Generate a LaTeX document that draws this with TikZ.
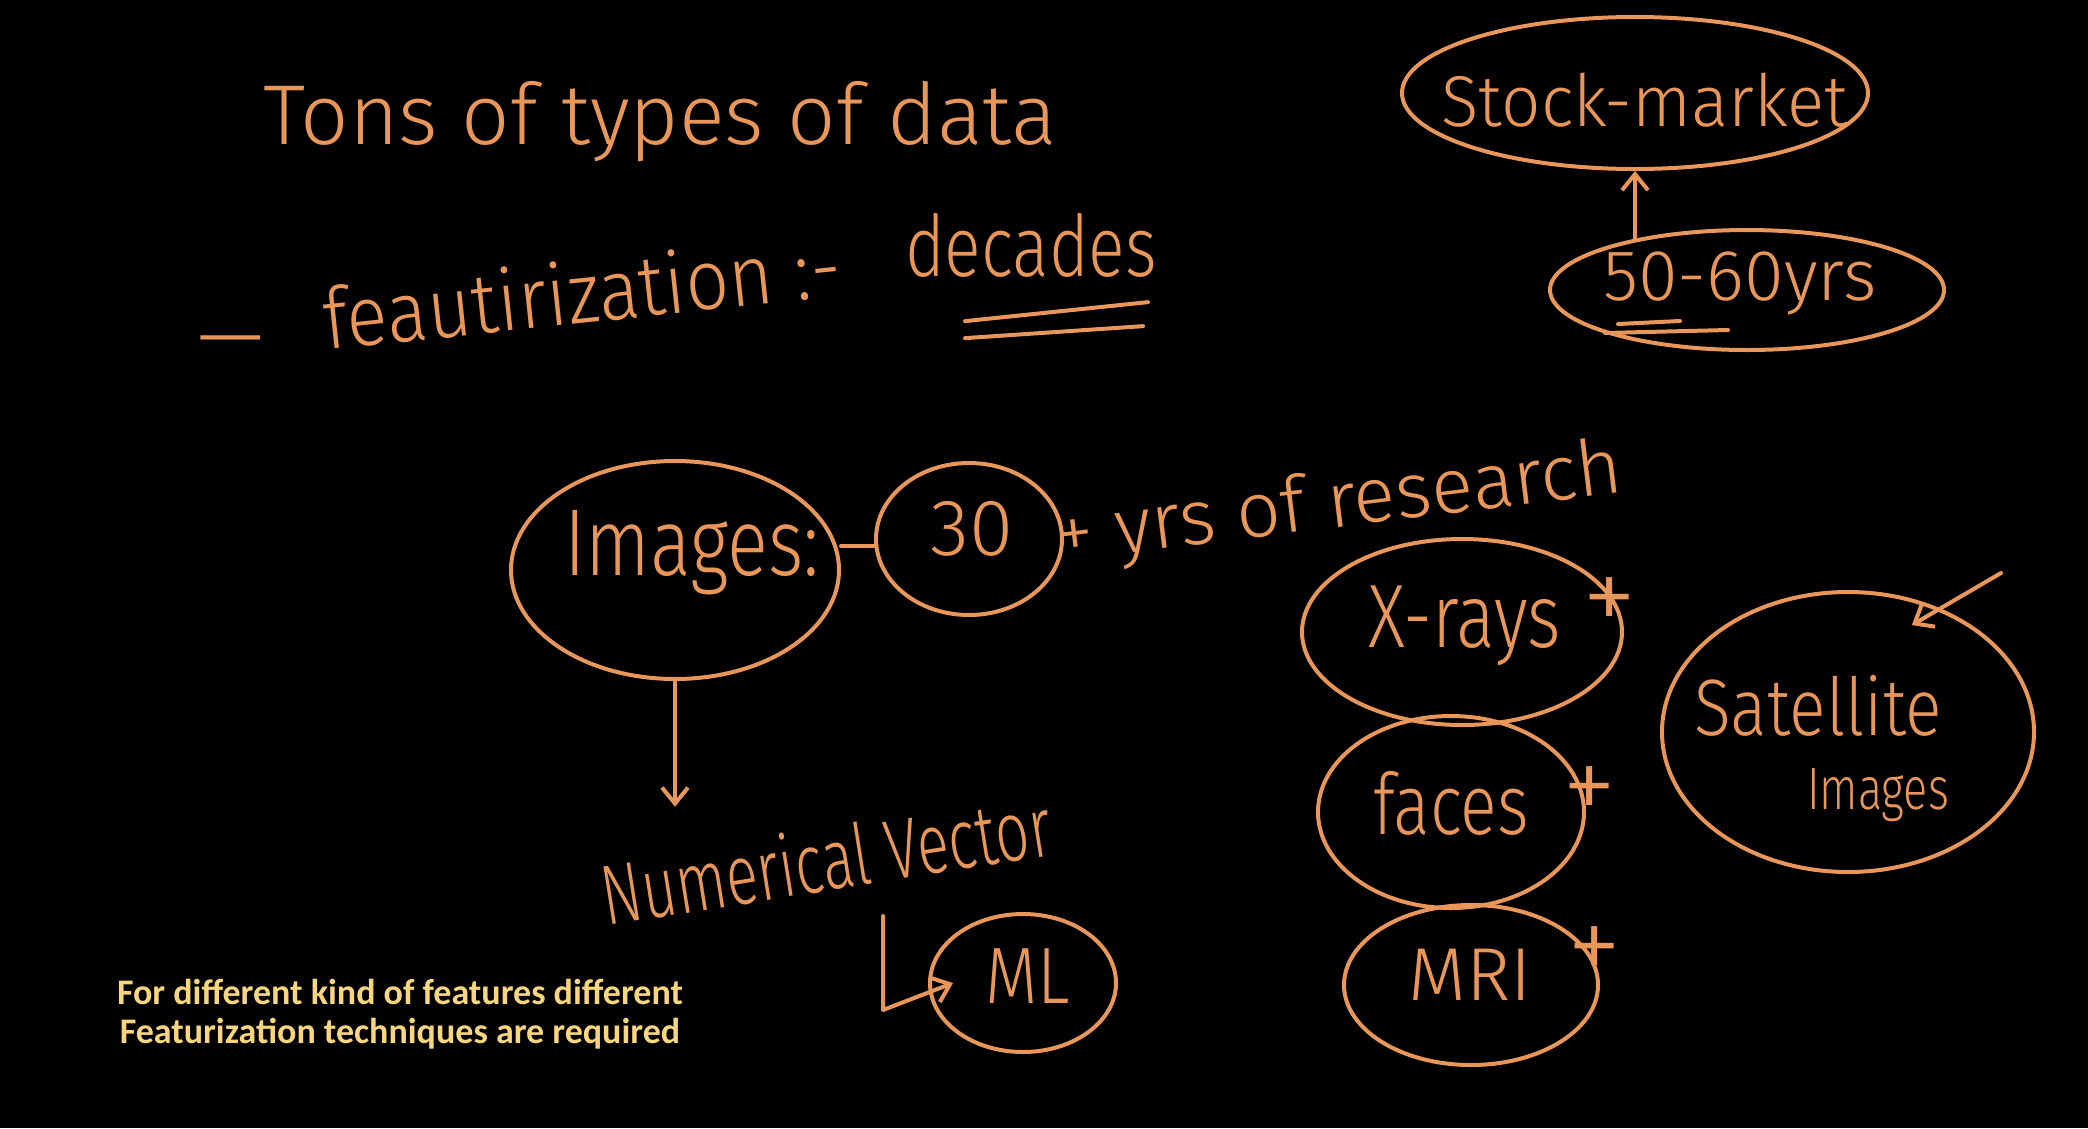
\documentclass[tikz,border=0pt]{standalone}
\usepackage{fontspec}
\usepackage{graphicx}
\usetikzlibrary{shapes.geometric,arrows.meta,calc}
\setmainfont{Carlito}
\newfontfamily\hand{Fira Sans Light}
\definecolor{chalk}{RGB}{232,150,90}
\definecolor{capt}{RGB}{248,214,128}
\newcommand\sqz[2]{\scalebox{#1}[1]{#2}}
\begin{document}
\begin{tikzpicture}[x=1pt,y=-1pt,
  stroke/.style={draw=chalk,line width=4pt,line cap=round,line join=round},
  ring/.style={stroke,ellipse,inner sep=0pt},
  hw/.style={text=chalk,inner sep=0pt,font=\hand\fontsize{#1}{#1}\selectfont},
  arr/.style={stroke,-{Straight Barb[length=16pt,width=26pt,line width=4pt]}},
  caption/.style={text=capt,inner sep=0pt,font=\bfseries\fontsize{36}{39}\selectfont,align=center}]

\fill[black] (0,0) rectangle (2088,1128);
\useasboundingbox (0,0) rectangle (2088,1128);

% top texts
\node[hw=85,anchor=base] (title) at (660,144) {Tons of types of data};
\node[hw=85] (dash) at (231,350) {—};
\node[hw=85,anchor=base west,rotate=6] (feat) at (326,350) {\sqz{0.9}{feautirization :-}};
\node[hw=85,anchor=base] (dec) at (1031,276) {\sqz{0.8}{decades}};
\draw[stroke] ($(dec.south)+(-66,44)$) -- ($(dec.south)+(117,25)$);
\draw[stroke] ($(dec.south)+(-66,61)$) -- ($(dec.south)+(112,49)$);

% stock market
\node[ring,minimum width=466pt,minimum height=152pt] (sm) at (1635,93) {};
\node[hw=72] (smt) at (1645,100) {\sqz{0.96}{Stock-market}};
\node[ring,minimum width=394pt,minimum height=120pt] (fs) at (1747,290) {};
\node[hw=72] (fst) at (1740,284) {50-60yrs};
\draw[stroke] ($(fs.center)+(-142,43)$) -- ($(fs.center)+(-19,40)$);
\draw[stroke] ($(fs.center)+(-129,34)$) -- ($(fs.center)+(-67,31)$);
\draw[arr] ([yshift=-12pt]sm.south |- fs.north) -- (sm.south);

% images
\node[ring,minimum width=328pt,minimum height=218pt] (img) at (675,570) {};
\node[hw=95] (imgt) at (692,553) {\sqz{0.8}{Images:}};
\node[ring,minimum width=186pt,minimum height=152pt] (thirty) at (969,539) {};
\node[hw=80] (thirtyt) at (972,529) {30};
\draw[stroke] ([yshift=24pt]img.east) -- ([yshift=24pt]img.east -| thirty.west);
\node[hw=78,rotate=7] (yrs) at (1339,506) {+ yrs of research};

\node[hw=85,rotate=9] (nv) at (826,859) {\sqz{0.7}{Numerical Vector}};
\draw[arr] (img.south) -- ([yshift=20pt]img.south |- nv.north);

\node[ring,minimum width=186pt,minimum height=138pt] (ml) at (1023,983) {};
\node[hw=80] (mlt) at (1028,976) {\sqz{0.85}{ML}};
\coordinate (lstart) at (883,916);
\coordinate (lcorner) at (883,1010);
\draw[arr] (lstart) -- (lcorner) -- ([xshift=25pt]ml.west);

% medical column
\node[ring,minimum width=320pt,minimum height=186pt] (xr) at (1462,632) {};
\node[hw=90] (xrt) at (1465,626) {\sqz{0.8}{X-rays}};
\node[hw=110] (xrp) at (1610,606) {+};
\node[ring,minimum width=266pt,minimum height=192pt] (fc) at (1451,812) {};
\node[hw=85] (fct) at (1451,803) {\sqz{0.8}{faces}};
\node[hw=110] (fcp) at (1590,795) {+};
\node[ring,minimum width=254pt,minimum height=160pt] (mri) at (1471,985) {};
\node[hw=75] (mrit) at (1470,975) {MRI};
\node[hw=110] (mrip) at (1595,955) {+};

% satellite
\node[ring,minimum width=372pt,minimum height=280pt] (sat) at (1848,732) {};
\node[hw=80] (satt) at (1818,706) {\sqz{0.85}{Satellite}};
\node[hw=60] (sati) at (1878,795) {\sqz{0.75}{Images}};
\coordinate (satfrom) at (2001,573);
\draw[arr] (satfrom) -- ([xshift=14pt,yshift=-30pt]sat.70);

% caption
\node[caption] (cap) at (400,1014) {For different kind of features different\\Featurization techniques are required};
\end{tikzpicture}
\end{document}
